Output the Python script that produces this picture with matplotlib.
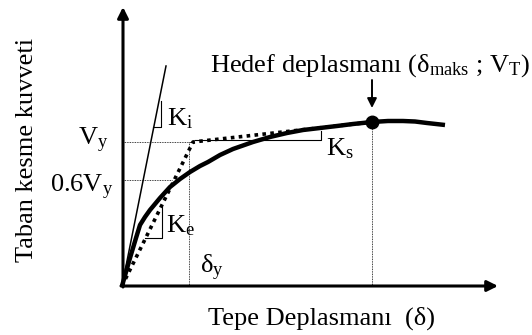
import matplotlib.pyplot as plt

plt.rcParams['font.family'] = ['Liberation Serif', 'DejaVu Serif']
plt.rcParams['mathtext.fontset'] = 'custom'
plt.rcParams['mathtext.rm'] = 'Liberation Serif'
plt.rcParams['mathtext.it'] = 'Liberation Serif:italic'

# schematic drawn in picture units (x to the right, y downwards)
origin = (122, 286)

# capacity curve (thick)
curve_x = [122, 130, 136, 140, 145, 150, 160, 170, 180, 190, 200, 208, 220,
           233, 253, 270, 287, 303, 320, 337, 353, 372, 388, 403, 415, 427, 445]
curve_y = [286, 258, 238, 225, 217, 210, 198, 187, 179, 172, 166, 162, 155,
           149, 142, 137, 133, 130, 128, 126, 124, 122, 121, 121, 121.5, 123, 125]

# idealised bilinear (dotted)
bil_x = [122, 193, 372]
bil_y = [286, 142, 122]

# initial stiffness line
ki_x = [122, 166]
ki_y = [286, 66]

# stiffness triangles
tri_ki_x, tri_ki_y = [153, 161, 161], [127, 127, 101]
tri_ke_x, tri_ke_y = [145, 162, 162], [238, 238, 207]
tri_ks_x, tri_ks_y = [195, 321, 321], [140, 140, 131]

vy_level = 142
vy06_level = 180
dy_pos = 189
target = (372, 122)

fig = plt.figure(figsize=(5.32, 3.35), dpi=100)
ax = fig.add_axes([0, 0, 1, 1])
ax.set_xlim(0, 532)
ax.set_ylim(335, 0)
ax.axis('off')

# axes with arrows
ax.annotate('', xy=(123, 7), xytext=(123, 287),
            arrowprops=dict(arrowstyle='-|>', lw=2.2, color='black',
                            mutation_scale=16, shrinkA=0, shrinkB=0))
ax.annotate('', xy=(498, 286), xytext=(121, 286),
            arrowprops=dict(arrowstyle='-|>', lw=2.2, color='black',
                            mutation_scale=16, shrinkA=0, shrinkB=0))

# thin dotted guides
g = dict(color='black', lw=0.6, ls=(0, (1, 1)))
ax.plot([123, bil_x[1]], [vy_level, vy_level], **g)
ax.plot([123, 172], [vy06_level, vy06_level], **g)
ax.plot([dy_pos, dy_pos], [vy_level, origin[1]], **g)
ax.plot([target[0], target[0]], [target[1], origin[1]], **g)

# Ki line and triangles
ax.plot(ki_x, ki_y, color='black', lw=1.1)
ax.plot(tri_ki_x, tri_ki_y, color='black', lw=0.8)
ax.plot(tri_ke_x, tri_ke_y, color='black', lw=0.8)
ax.plot(tri_ks_x, tri_ks_y, color='black', lw=0.8)

# curves
ax.plot(bil_x, bil_y, color='black', lw=2.6, ls=(0, (1, 1.2)))
ax.plot(curve_x, curve_y, color='black', lw=3.2, solid_capstyle='butt',
        solid_joinstyle='round')
ax.plot(*target, 'o', color='black', ms=9)

# arrow to target
ax.annotate('', xy=(372, 108), xytext=(372, 80),
            arrowprops=dict(arrowstyle='-|>', lw=1.4, color='black',
                            mutation_scale=14, shrinkA=0, shrinkB=0))

fs = 19
ax.text(370, 66, r'Hedef deplasmanı ($\mathrm{δ_{maks}}$ ; $\mathrm{V_T}$)', fontsize=fs,
        ha='center', va='center')
ax.text(108, 140, r'$\mathrm{V_y}$', fontsize=fs, ha='right', va='center')
ax.text(113, 187, r'$\mathrm{0.6V_y}$', fontsize=fs, ha='right', va='center')
ax.text(167, 119, r'$\mathrm{K_i}$', fontsize=fs, ha='left', va='center')
ax.text(166, 226, r'$\mathrm{K_e}$', fontsize=fs, ha='left', va='center')
ax.text(326, 149, r'$\mathrm{K_s}$', fontsize=fs, ha='left', va='center')
ax.text(200, 268, r'$\mathrm{δ_y}$', fontsize=fs, ha='left', va='center')
ax.text(321, 318, 'Tepe Deplasmanı  (δ)', fontsize=fs, ha='center', va='center')
ax.text(27, 150, 'Taban kesme kuvveti', fontsize=fs, ha='center', va='center',
        rotation=90)

fig.savefig('out.png', dpi=100)
